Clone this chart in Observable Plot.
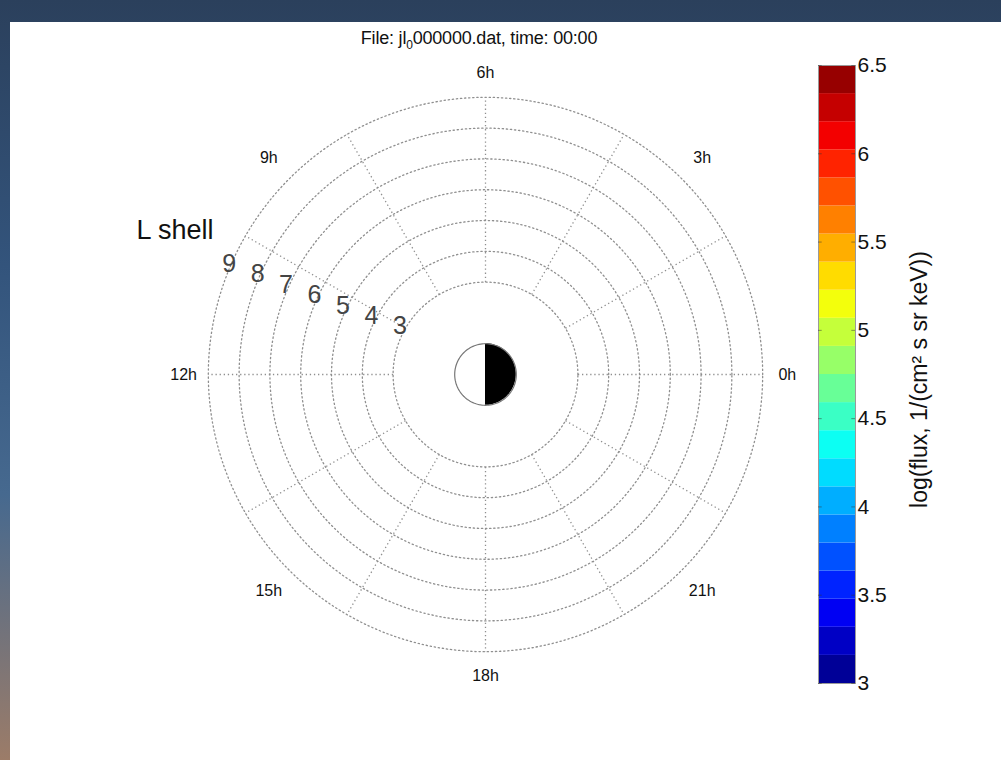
<!DOCTYPE html>
<html><head><meta charset="utf-8">
<script src="https://cdn.jsdelivr.net/npm/d3@7"></script>
<script src="https://cdn.jsdelivr.net/npm/@observablehq/plot@0.6"></script>
<style>
html,body{margin:0;padding:0;width:1001px;height:760px;overflow:hidden;}
body{background:linear-gradient(to bottom,#2b405c 0%,#33547c 35%,#46698f 65%,#9c7c68 100%);font-family:"Liberation Sans",Arial,sans-serif;position:relative;}
#panel{position:absolute;left:10px;top:22px;width:991px;height:738px;background:#fff;}
#title{position:absolute;left:0;width:958px;top:28px;text-align:center;font-size:18px;color:#111;letter-spacing:-0.2px;}
#title sub{font-size:12px;}
#main{position:absolute;left:0;top:0;}
#cbar{position:absolute;left:800px;top:40px;}
svg{overflow:visible;}
</style></head><body>
<div id="panel"></div>
<div id="title"></div>
<div id="main"></div><div id="cbar"></div>
<script>
// ---- data ----
const titlePrefix = "File: jl";
const titleSub = "0";
const titleSuffix = "000000.dat, time: 00:00";
const lShells = [3, 4, 5, 6, 7, 8, 9];
const spokeHours = [0, 2, 4, 6, 8, 10, 12, 14, 16, 18, 20, 22];
const labelHours = [0, 3, 6, 9, 12, 15, 18, 21];
const hourLabels = ["0h", "3h", "6h", "9h", "12h", "15h", "18h", "21h"];
const lShellTitle = "L shell";
const cbDomain = [3, 6.5];
const cbTicks = [3, 3.5, 4, 4.5, 5, 5.5, 6, 6.5];
const cbLabel = "log(flux, 1/(cm² s sr keV))";
const nBands = 22;
const earthRadius = 1;

document.getElementById("title").innerHTML = titlePrefix + "<sub>" + titleSub + "</sub>" + titleSuffix;

// ---- geometry helpers ----
const k = 30.8; // px per unit L
const cx = 485, cy = 374, W = 1001, H = 760;
const rad = h => h * 15 * Math.PI / 180;
const circlePts = lShells.flatMap(L => d3.range(0, 361, 2).map(a => ({L, x: L * Math.cos(a * Math.PI / 180), y: L * Math.sin(a * Math.PI / 180)})));
const earthPts = d3.range(0, 361, 3).map(a => ({x: earthRadius * Math.cos(a * Math.PI / 180), y: earthRadius * Math.sin(a * Math.PI / 180)}));
const halfPts = d3.range(-90, 91, 3).map(a => ({y: earthRadius * Math.sin(a * Math.PI / 180), x2: earthRadius * Math.cos(a * Math.PI / 180)}));
const rMin = d3.min(lShells), rMax = d3.max(lShells);
const labelR = h => (h % 6 === 0 ? 9.8 : 9.95);

const dotted = {stroke: "#8f8f8f", strokeWidth: 1.3, strokeDasharray: "1.3,2.8"};

const main = Plot.plot({
  width: W, height: H, margin: 0,
  x: {domain: [-cx / k, (W - cx) / k], axis: null},
  y: {domain: [-(H - cy) / k, cy / k], axis: null},
  style: {background: "transparent", fontFamily: "Liberation Sans, Arial, sans-serif"},
  marks: [
    Plot.line(circlePts, {x: "x", y: "y", z: "L", ...dotted}),
    Plot.link(spokeHours, {x1: h => rMin * Math.cos(rad(h)), y1: h => rMin * Math.sin(rad(h)), x2: h => rMax * Math.cos(rad(h)), y2: h => rMax * Math.sin(rad(h)), ...dotted}),
    Plot.text(labelHours, {x: h => labelR(h) * Math.cos(rad(h)), y: h => labelR(h) * Math.sin(rad(h)), text: (h, i) => hourLabels[i], fontSize: 16, fill: "#111"}),
    Plot.text(lShells, {x: L => -0.925 * L, y: L => 0.34 * L + 0.54, text: L => String(L), fontSize: 25, fill: "#444"}),
    Plot.text([rMax], {x: L => -0.925 * L, y: L => 0.34 * L + 0.54, dx: -54, dy: -33, text: () => lShellTitle, fontSize: 27, fill: "#111"}),
    Plot.line(earthPts, {x: "x", y: "y", fill: "white", stroke: "none"}),
    Plot.areaX(halfPts, {y: "y", x1: 0, x2: "x2", fill: "black"}),
    Plot.line(earthPts, {x: "x", y: "y", stroke: "#777", strokeWidth: 1.2})
  ]
});
document.getElementById("main").append(main);

function jet(t) {
  const c = v => Math.round(255 * Math.max(0, Math.min(1, v)));
  return `rgb(${c(1.5 - Math.abs(4 * t - 3))},${c(1.5 - Math.abs(4 * t - 2))},${c(1.5 - Math.abs(4 * t - 1))})`;
}
const step = (cbDomain[1] - cbDomain[0]) / nBands;
const bands = d3.range(nBands).map(i => ({lo: cbDomain[0] + i * step, hi: cbDomain[0] + (i + 1) * step, c: jet((i + 0.5) / nBands)}));

const cbar = Plot.plot({
  width: 200, height: 680,
  marginTop: 25, marginBottom: 37, marginLeft: 18, marginRight: 145,
  x: {domain: [0, 1], axis: null},
  y: {domain: cbDomain, axis: null},
  color: {type: "identity"},
  style: {background: "transparent", fontFamily: "Liberation Sans, Arial, sans-serif"},
  marks: [
    Plot.rect(bands, {x1: 0, x2: 1, y1: "lo", y2: "hi", fill: "c"}),
    Plot.frame({stroke: "#9a9a9a"}),
    Plot.ruleY(cbTicks, {x1: 0, x2: 0.1, stroke: "#333", strokeOpacity: 0.5}),
    Plot.ruleY(cbTicks, {x1: 0.9, x2: 1, stroke: "#333", strokeOpacity: 0.5}),
    Plot.axisY(cbTicks, {anchor: "right", tickSize: 0, tickPadding: 2, fontSize: 21, tickFormat: d => String(d), label: null, fill: "#111"}),
    Plot.text([cbLabel], {frameAnchor: "right", rotate: -90, dx: 64, dy: 5, textAnchor: "middle", fontSize: 23, fill: "#111", text: d => d})
  ]
});
document.getElementById("cbar").append(cbar);
</script>
</body></html>
